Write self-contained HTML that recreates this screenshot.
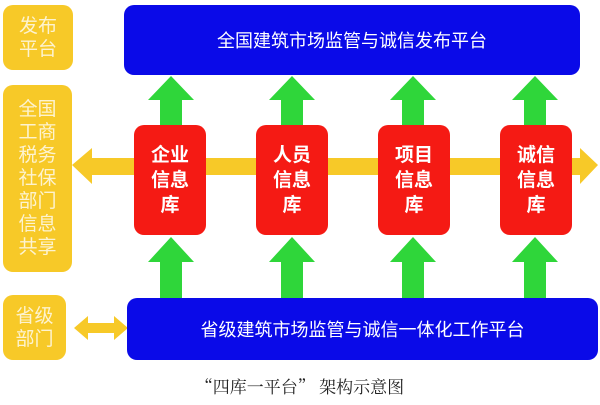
<!DOCTYPE html>
<html><head><meta charset="utf-8"><style>
body{margin:0;width:600px;height:405px;background:#fff;position:relative;overflow:hidden;font-family:"Liberation Sans","Noto Sans CJK SC",sans-serif}
.a{position:absolute;box-sizing:border-box;display:flex;align-items:center;justify-content:center;text-align:center;color:#fff}
.y{background:#f7c928;border-radius:10px;font-size:19px;line-height:23px;color:#fdf3d0}
.b{background:#0a0ae8;border-radius:10px;font-size:18px}
.r{background:#f51a14;border-radius:10px;font-size:19px;line-height:25px;font-weight:bold}
</style></head><body>
<svg width="600" height="405" style="position:absolute;left:0;top:0">
<polygon points="72,165 92,148 92,158 580,158 580,148 598,165 580,184 580,175 92,175 92,184" fill="#f7c928"/>
<polygon points="74,328 88,316 88,323 114,323 114,316 128,328 114,340 114,333 88,333 88,340" fill="#f7c928"/>
<g fill="#2fd63a">
<polygon points="160,125 160,100 148,100 171,76 194,100 182,100 182,125"/>
<polygon points="281,125 281,100 269,100 292,76 315,100 303,100 303,125"/>
<polygon points="402,125 402,100 390,100 413,76 436,100 424,100 424,125"/>
<polygon points="524,125 524,100 512,100 535,76 558,100 546,100 546,125"/>
<polygon points="160,298 160,262 148,262 171,237 194,262 182,262 182,298"/>
<polygon points="281,298 281,262 269,262 292,237 315,262 303,262 303,298"/>
<polygon points="402,298 402,262 390,262 413,237 436,262 424,262 424,298"/>
<polygon points="524,298 524,262 512,262 535,237 558,262 546,262 546,298"/>
</g>
</svg>
<div class="a y" style="left:3px;top:5px;width:70px;height:65px">发布<br>平台</div>
<div class="a y" style="left:3px;top:85px;width:69px;height:187px">全国<br>工商<br>税务<br>社保<br>部门<br>信息<br>共享</div>
<div class="a y" style="left:3px;top:295px;width:63px;height:65px">省级<br>部门</div>
<div class="a b" style="left:124px;top:5px;width:456px;height:70px">全国建筑市场监管与诚信发布平台</div>
<div class="a b" style="left:127px;top:298px;width:471px;height:62px">省级建筑市场监管与诚信一体化工作平台</div>
<div class="a r" style="left:134px;top:125px;width:72px;height:110px">企业<br>信息<br>库</div>
<div class="a r" style="left:256px;top:125px;width:72px;height:110px">人员<br>信息<br>库</div>
<div class="a r" style="left:378px;top:125px;width:72px;height:110px">项目<br>信息<br>库</div>
<div class="a r" style="left:500px;top:125px;width:72px;height:110px">诚信<br>信息<br>库</div>
<div class="a" style="left:180px;top:372px;width:240px;height:26px;color:#222;font-size:17px;font-family:'Noto Serif CJK SC',serif">“四库一平台” 架构示意图</div>
</body></html>
